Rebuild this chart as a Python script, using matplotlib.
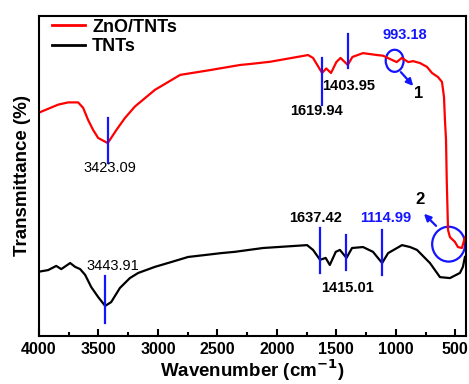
import matplotlib
matplotlib.use('Agg')
import matplotlib.pyplot as plt
from matplotlib.patches import Ellipse
from matplotlib.ticker import MultipleLocator

plt.rcParams['font.family'] = ['Liberation Sans', 'DejaVu Sans']

# ZnO/TNTs spectrum (wavenumber, transmittance a.u.)
zno_wn = [4000, 3923, 3839, 3755, 3671, 3629, 3587, 3545, 3503, 3423, 3404,
          3349, 3278, 3194, 3110, 3026, 2813, 2561, 2309, 2225, 2057, 1889,
          1738, 1696, 1620, 1585, 1545, 1500, 1465, 1404, 1365, 1276, 1158,
          1108, 993, 950, 895, 855, 797, 738, 696, 645, 612, 595, 587, 578,
          572, 561, 545, 503, 478, 444, 419]
zno_t = [69.8, 71.0, 72.3, 73.0, 73.0, 71.3, 67.5, 64.4, 61.9, 60.3, 61.3,
         64.4, 68.1, 71.7, 74.3, 76.9, 81.6, 83.1, 84.7, 85.0, 85.7, 86.8,
         87.8, 86.9, 82.2, 83.6, 82.2, 85.6, 86.9, 84.7, 87.2, 88.4, 87.8,
         87.6, 85.6, 86.9, 85.6, 85.9, 85.3, 84.1, 82.2, 80.9, 79.4, 74.7,
         67.5, 61.3, 48.8, 33.1, 30.9, 29.4, 27.8, 27.5, 30.9]

# TNTs spectrum
tnt_wn = [4000, 3923, 3855, 3813, 3738, 3696, 3654, 3612, 3561, 3503, 3444,
          3393, 3320, 3236, 3166, 3026, 2889, 2746, 2606, 2469, 2354, 2116,
          1746, 1696, 1637, 1590, 1555, 1505, 1470, 1415, 1368, 1276, 1192,
          1115, 1065, 948, 880, 822, 713, 629, 545, 461, 436, 419]
tnt_t = [20.1, 20.6, 21.9, 20.9, 22.8, 21.6, 20.9, 19.1, 15.3, 12.2, 9.4,
         10.6, 15.0, 18.1, 19.7, 21.6, 23.1, 24.7, 25.3, 25.9, 26.3, 27.5,
         28.4, 26.9, 23.8, 24.4, 22.2, 26.3, 26.9, 24.4, 27.5, 27.8, 26.3,
         22.8, 25.9, 28.4, 27.8, 26.9, 22.8, 18.4, 18.1, 19.7, 21.6, 24.7]

# peak marks: (wavenumber, line bottom, line top, label x, label y, colour, weight)
peaks = [
    (3423.09, 54.1, 68.1, 3400, 52.5, 'black', 'normal'),
    (1619.94, 72.2, 86.9, 1669, 70.3, 'black', 'bold'),
    (1403.95, 83.8, 94.4, 1394, 78.1, 'black', 'bold'),
    (3443.91, 4.1, 18.8, 3376, 21.9, 'black', 'normal'),
    (1637.42, 19.7, 33.8, 1677, 36.9, 'black', 'bold'),
    (1415.01, 20.6, 31.6, 1410, 15.0, 'black', 'bold'),
    (1114.99, 19.1, 33.1, 1082, 36.9, 'blue', 'bold'),
]

blue = '#1414ff'

fig = plt.figure(figsize=(4.69, 3.84), dpi=100)
ax = fig.add_axes([39 / 469, 48 / 384, 427 / 469, 320 / 384])

ax.plot(zno_wn, zno_t, color='#ff0000', lw=1.6, label='ZnO/TNTs')
ax.plot(tnt_wn, tnt_t, color='black', lw=1.6, label='TNTs')

for wn, y0, y1, lx, ly, col, wt in peaks:
    ax.plot([wn, wn], [y0, y1], color=blue, lw=1.6)
    ax.text(lx, ly, '%.2f' % wn, color=blue if col == 'blue' else 'black',
            fontsize=10.5, fontweight=wt, ha='center', va='center')

# 993.18 marker and zoom circles
ax.text(923, 94.1, '993.18', color=blue, fontsize=10.5, fontweight='bold',
        ha='center', va='center')
ax.add_patch(Ellipse((1010, 86), 150, 6.9, fill=False, ec=blue, lw=1.6))
ax.annotate('', xy=(838, 77.5), xytext=(973, 83.1),
            arrowprops=dict(arrowstyle='-|>', color=blue, lw=1.6, mutation_scale=10))
ax.text(805, 75.9, '1', fontsize=12, fontweight='bold', ha='center', va='center')

ax.add_patch(Ellipse((556, 28.7), 277, 10.9, fill=False, ec=blue, lw=1.6))
ax.annotate('', xy=(780, 38.8), xytext=(645, 33.8),
            arrowprops=dict(arrowstyle='-|>', color=blue, lw=1.6, mutation_scale=10))
ax.text(797, 42.5, '2', fontsize=12, fontweight='bold', ha='center', va='center')

ax.set_xlim(4000, 410)
ax.set_ylim(0, 100)
ax.xaxis.set_major_locator(MultipleLocator(500))
ax.xaxis.set_minor_locator(MultipleLocator(250))
ax.set_yticks([])
ax.tick_params(axis='x', which='major', direction='in', length=5, width=1.5,
               labelsize=11.5, pad=4, top=False)
ax.tick_params(axis='x', which='minor', direction='in', length=3, width=1.5, top=False)
for lab in ax.get_xticklabels():
    lab.set_fontweight('bold')
for sp in ax.spines.values():
    sp.set_linewidth(1.5)

ax.set_xlabel('Wavenumber (cm$^{\\mathbf{-1}}$)', fontsize=13.5, fontweight='bold', labelpad=1)
ax.set_ylabel('Transmittance (%)', fontsize=13.5, fontweight='bold', labelpad=6)

leg = ax.legend(loc='upper left', frameon=False, fontsize=13, handlelength=1.8,
                handletextpad=0.4, labelspacing=0.15, borderaxespad=0.1,
                bbox_to_anchor=(0.01, 1.02))
for t in leg.get_texts():
    t.set_fontweight('bold')
for h in leg.get_lines():
    h.set_linewidth(2)

fig.savefig('out.png', dpi=100)
